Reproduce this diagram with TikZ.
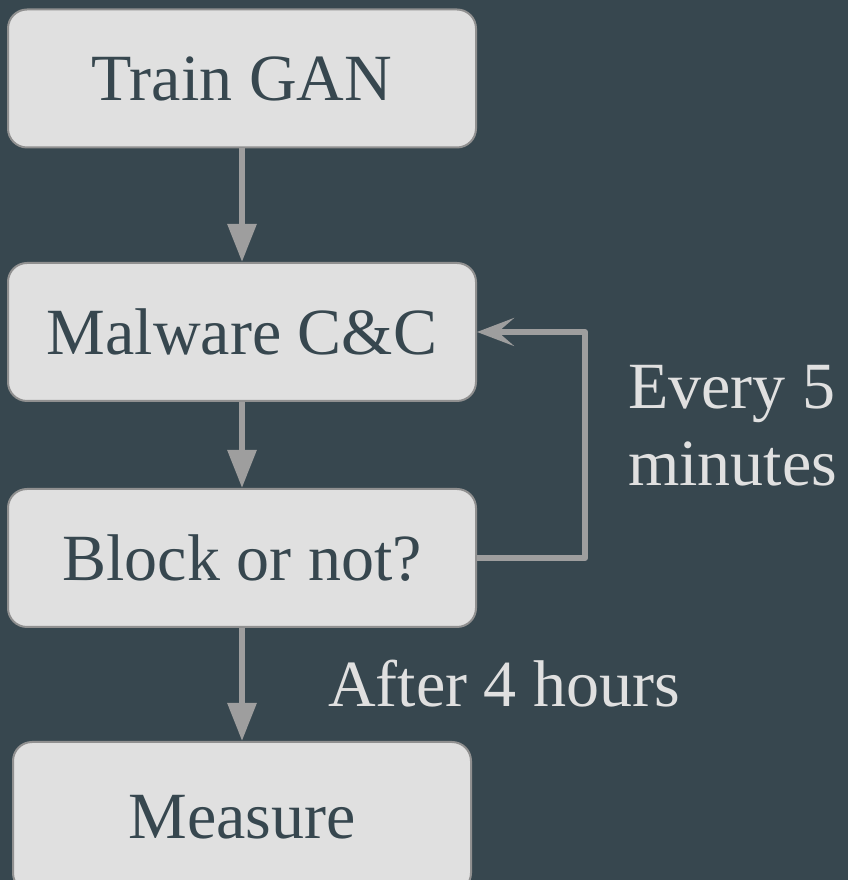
\documentclass[tikz,border=0pt]{standalone}
\usepackage{fontspec}
\setmainfont{Liberation Serif}
\usetikzlibrary{arrows.meta}

\definecolor{slate}{HTML}{37474F}
\definecolor{boxgray}{HTML}{E0E0E0}
\definecolor{edgegray}{HTML}{909090}
\definecolor{arrowgray}{HTML}{9E9E9E}

\begin{document}
\begin{tikzpicture}[x=1pt, y=1pt, font=\fontsize{66}{77}\selectfont,
  stepbox/.style={draw=edgegray, line width=2pt, fill=boxgray, text=slate, rounded corners=19pt, minimum width=468pt, minimum height=138pt, inner sep=0pt},
  flow/.style={draw=arrowgray, line width=6pt, -{Triangle[width=28pt, length=38pt]}},
  back/.style={draw=arrowgray, line width=6pt, line join=round, -{Stealth[width=28pt, length=37pt, inset=16pt]}},
  note/.style={text=boxgray, inner sep=0pt}]

% background
\fill[slate] (0,0) rectangle (848,880);
\useasboundingbox (0,0) rectangle (848,880);

\node[stepbox] (train) at (242,801.5) {Train GAN};
\node[stepbox] (cnc) at (242,548) {Malware C\&C};
\node[stepbox] (block) at (242,322) {Block or not?};
\node[stepbox, minimum width=458pt, minimum height=150pt, text depth=-12pt] (measure) at (242,63) {Measure};

\draw[flow] (train) -- (cnc);
\draw[flow] (cnc) -- (block);
\draw[flow] (block) -- (measure);

% loop back every five minutes
\coordinate (turn) at (585,322);
\draw[back] (block.east) -- (turn) |- (cnc.east);

\node[note, anchor=west, align=left] (every) at (628,453.8) {Every 5\\minutes};
\node[note, anchor=base west] (after) at (328,173) {After 4 hours};

\end{tikzpicture}
\end{document}
